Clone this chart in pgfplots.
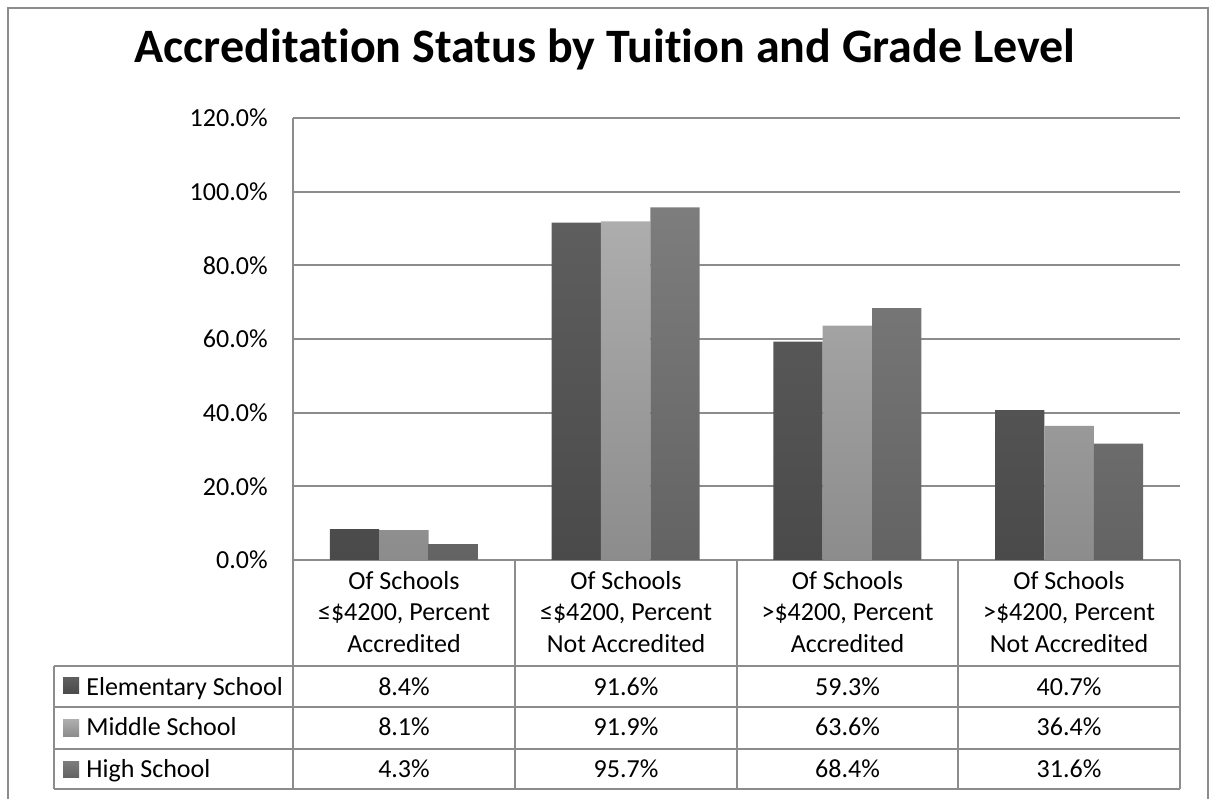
\documentclass[border=0pt]{standalone}
\usepackage{pgfplots}
\pgfplotsset{compat=1.18}
\usepackage{fontspec}
\setmainfont{Carlito}[Ligatures={NoCommon}]
\definecolor{linecol}{HTML}{8C8C8C}
\definecolor{elemtop}{HTML}{5E5E5E}
\definecolor{elembot}{HTML}{4A4A4A}
\definecolor{midtop}{HTML}{ADADAD}
\definecolor{midbot}{HTML}{8C8C8C}
\definecolor{hightop}{HTML}{7D7D7D}
\definecolor{highbot}{HTML}{636363}
\newcommand{\tabfont}{\fontsize{13}{15.75}\selectfont}

\begin{document}
\begin{tikzpicture}[x=0.5pt,y=0.5pt]
\path[use as bounding box] (0,0) rectangle (1210,798);
% chart frame (open at the bottom, as in the crop)
\draw[linecol, line width=0.8pt] (8,-2) -- (8,790) -- (1208,790) -- (1208,-2);

\node[font=\bfseries\fontsize{24}{28}\selectfont, anchor=base] at (605,735)
  {Accreditation Status by Tuition and Grade Level};

\begin{axis}[
    at={(146.5pt,119pt)}, anchor=south west,
    scale only axis,
    width=443.5pt, height=221pt,
    xmin=-0.5, xmax=3.5,
    ymin=0, ymax=120,
    ybar=0pt, bar width=24.65pt,
    xtick=\empty,
    ytick={0,20,...,120},
    yticklabels={0.0\%,20.0\%,40.0\%,60.0\%,80.0\%,100.0\%,120.0\%},
    yticklabel style={font=\tabfont, inner sep=0pt, xshift=-12.5pt},
    major tick length=0pt,
    tick style={draw=none},
    axis line style={draw=none},
    ymajorgrids,
    grid style={linecol, line width=0.9pt},
    clip=false,
]
\addplot[draw=none, top color=elemtop, bottom color=elembot]
  coordinates {(0,8.4) (1,91.6) (2,59.3) (3,40.7)};
\addplot[draw=none, top color=midtop, bottom color=midbot]
  coordinates {(0,8.1) (1,91.9) (2,63.6) (3,36.4)};
\addplot[draw=none, top color=hightop, bottom color=highbot]
  coordinates {(0,4.3) (1,95.7) (2,68.4) (3,31.6)};
\end{axis}

% data table below the plot
\begin{scope}[linecol, line width=0.9pt]
  \draw (293,680) -- (293,9);
  \foreach \x in {515,737,958,1180} \draw (\x,238) -- (\x,9);
  \foreach \y in {132,91,49,9} \draw (54,\y) -- (1180,\y);
  \draw (54,132) -- (54,9);
\end{scope}

% column headers
\foreach \cx/\a/\b in {404/{≤\$4200, Percent}/Accredited,
                       626/{≤\$4200, Percent}/Not Accredited,
                       847.5/{>\$4200, Percent}/Accredited,
                       1069/{>\$4200, Percent}/Not Accredited}{
  \node[font=\tabfont, anchor=base] at (\cx,208) {Of Schools};
  \node[font=\tabfont, anchor=base] at (\cx,177) {\a};
  \node[font=\tabfont, anchor=base] at (\cx,145) {\b};
}

% row headers with legend keys
\fill[top color=elemtop, bottom color=elembot] (63,104) rectangle (79,120);
\fill[top color=midtop, bottom color=midbot] (63,62) rectangle (79,78);
\fill[top color=hightop, bottom color=highbot] (63,21) rectangle (79,37);
\node[font=\tabfont, anchor=base west, inner sep=0pt] at (86,103) {Elementary School};
\node[font=\tabfont, anchor=base west, inner sep=0pt] at (86,62) {Middle School};
\node[font=\tabfont, anchor=base west, inner sep=0pt] at (86,21) {High School};

% table values
\foreach \cx/\v in {404/8.4, 626/91.6, 847.5/59.3, 1069/40.7}
  \node[font=\tabfont, anchor=base] at (\cx,103) {\v\%};
\foreach \cx/\v in {404/8.1, 626/91.9, 847.5/63.6, 1069/36.4}
  \node[font=\tabfont, anchor=base] at (\cx,62) {\v\%};
\foreach \cx/\v in {404/4.3, 626/95.7, 847.5/68.4, 1069/31.6}
  \node[font=\tabfont, anchor=base] at (\cx,21) {\v\%};
\end{tikzpicture}
\end{document}
